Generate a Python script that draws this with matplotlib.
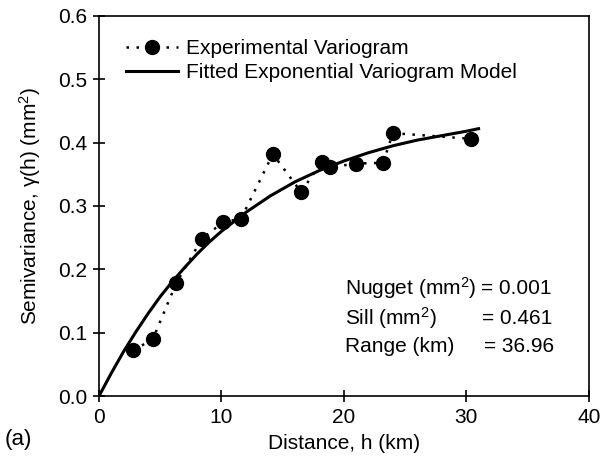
import matplotlib.pyplot as plt

plt.rcParams['font.family'] = ['Liberation Sans', 'DejaVu Sans']
plt.rcParams['mathtext.fontset'] = 'custom'
plt.rcParams['mathtext.rm'] = 'Liberation Sans'
plt.rcParams['mathtext.it'] = 'Liberation Sans:italic'
plt.rcParams['mathtext.default'] = 'regular'

# experimental variogram
lag_km = [2.8, 4.4, 6.3, 8.4, 10.1, 11.6, 14.2, 16.5, 18.2, 18.9, 21.0, 23.2, 24.0, 30.4]
semivar = [0.072, 0.090, 0.178, 0.248, 0.274, 0.280, 0.382, 0.322, 0.370, 0.361, 0.367, 0.368, 0.415, 0.406]

# fitted exponential model curve
model_x = [0, 1, 2, 3, 4, 5, 6, 7, 8, 9, 10, 12, 14, 16, 18, 20, 22, 24, 26, 28, 30, 31]
model_y = [0.0, 0.036, 0.070, 0.101, 0.130, 0.157, 0.181, 0.203, 0.224, 0.243, 0.260,
           0.290, 0.316, 0.338, 0.356, 0.371, 0.384, 0.395, 0.404, 0.411, 0.418, 0.422]

fig = plt.figure(figsize=(6.02, 4.68), dpi=100)
ax = fig.add_axes([0.1645, 0.1538, 0.8135, 0.8122])

fs = 15

ax.plot(lag_km, semivar, linestyle=(0, (1, 3)), color='black', lw=1.8,
        marker='o', markersize=10, label='Experimental Variogram', zorder=3)
ax.plot(model_x, model_y, color='black', lw=2.2,
        label='Fitted Exponential Variogram Model', zorder=2)

ax.set_xlim(0, 40)
ax.set_ylim(0, 0.6)
ax.set_xticks([0, 10, 20, 30, 40])
ax.set_yticks([0.0, 0.1, 0.2, 0.3, 0.4, 0.5, 0.6])
ax.set_yticklabels(['0.0', '0.1', '0.2', '0.3', '0.4', '0.5', '0.6'])
ax.tick_params(direction='inout', length=9, width=1.2, labelsize=fs, pad=4)
for s in ax.spines.values():
    s.set_linewidth(1.2)

ax.set_xlabel('Distance, h (km)', fontsize=fs, labelpad=5)
ax.set_ylabel('Semivariance, γ(h) (mm$^2$)', fontsize=fs, labelpad=11)

ax.legend(loc='upper left', bbox_to_anchor=(0.03, 0.972), frameon=False,
          fontsize=fs, handlelength=2.5, handletextpad=0.35, labelspacing=0.25,
          borderaxespad=0.2)

tx = 0.502
eq_x = 0.78
rows = [(0.283, 'Nugget (mm$^2$)', '= 0.001', 0.0),
        (0.205, 'Sill (mm$^2$)', '= 0.461', 0.003),
        (0.131, 'Range (km)', '= 36.96', 0.007)]
for yy, lab, val, dx in rows:
    ax.text(tx, yy, lab, transform=ax.transAxes, fontsize=fs, va='center')
    ax.text(eq_x + dx, yy, val, transform=ax.transAxes, fontsize=fs, va='center')

fig.text(0.008, 0.06, '(a)', fontsize=16, va='center', ha='left')

fig.savefig('out.png', dpi=100)
